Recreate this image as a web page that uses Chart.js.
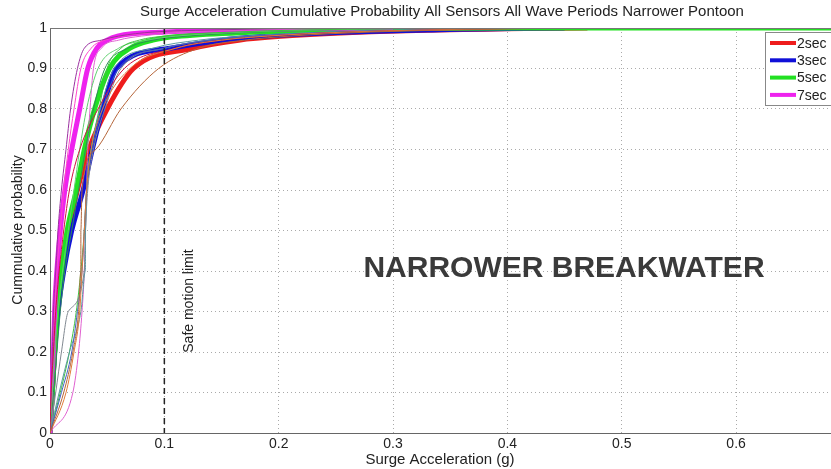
<!DOCTYPE html>
<html>
<head>
<meta charset="utf-8">
<script src="https://cdn.jsdelivr.net/npm/chart.js@4"></script>
<style>
  html, body { margin: 0; padding: 0; background: #fff; }
  #wrap { width: 831px; height: 469px; }
</style>
</head>
<body>
<div id="wrap"><canvas id="cdf"></canvas></div>
<script>
// cumulative probability levels, and the acceleration (g) where each curve reaches them
const probLevels = [0, 0.1, 0.2, 0.3, 0.4, 0.5, 0.6, 0.7, 0.8, 0.9, 0.95, 0.97, 0.98, 0.99, 0.995, 1, 1];

const accel2sec = [0, 0.002, 0.004, 0.006, 0.010, 0.016, 0.024, 0.034, 0.050, 0.073, 0.125, 0.165, 0.205, 0.275, 0.34, 0.47, 0.47];
const accel3sec = [0, 0.002, 0.004, 0.007, 0.012, 0.019, 0.029, 0.037, 0.046, 0.058, 0.105, 0.150, 0.190, 0.265, 0.33, 0.45, 0.45];
const accel5sec = [0, 0.002, 0.004, 0.006, 0.010, 0.015, 0.023, 0.030, 0.039, 0.052, 0.070, 0.090, 0.115, 0.18, 0.24, 0.40, 0.70];
const accel7sec = [0, 0.001, 0.003, 0.004, 0.006, 0.009, 0.013, 0.019, 0.026, 0.033, 0.041, 0.050, 0.059, 0.10, 0.15, 0.30, 0.30];

// single sensors (thin lines)
const sensors2sec = [
  [0, 0.012, 0.020, 0.025, 0.027, 0.027, 0.028, 0.040, 0.062, 0.095, 0.13, 0.17, 0.21, 0.28, 0.35, 0.48, 0.48],
  [0, 0.014, 0.021, 0.026, 0.028, 0.030, 0.032, 0.036, 0.046, 0.070, 0.11, 0.15, 0.19, 0.26, 0.33, 0.46, 0.46],
  [0, 0.001, 0.003, 0.005, 0.008, 0.012, 0.017, 0.026, 0.042, 0.065, 0.11, 0.15, 0.19, 0.26, 0.33, 0.45, 0.45]
];
const sensors3sec = [
  [0, 0.010, 0.019, 0.024, 0.028, 0.030, 0.032, 0.037, 0.046, 0.060, 0.10, 0.14, 0.18, 0.25, 0.32, 0.44, 0.44],
  [0, 0.008, 0.017, 0.027, 0.031, 0.031, 0.032, 0.036, 0.044, 0.056, 0.09, 0.13, 0.17, 0.24, 0.31, 0.43, 0.43],
  [0, 0.005, 0.010, 0.016, 0.030, 0.031, 0.033, 0.038, 0.048, 0.062, 0.10, 0.14, 0.18, 0.25, 0.32, 0.44, 0.44]
];
const sensors5sec = [
  [0, 0.009, 0.017, 0.023, 0.027, 0.030, 0.032, 0.036, 0.043, 0.050, 0.062, 0.078, 0.10, 0.16, 0.22, 0.38, 0.38],
  [0, 0.002, 0.004, 0.007, 0.011, 0.016, 0.021, 0.026, 0.032, 0.042, 0.060, 0.085, 0.11, 0.17, 0.23, 0.39, 0.39],
  [0, 0.003, 0.006, 0.009, 0.013, 0.019, 0.025, 0.031, 0.038, 0.048, 0.068, 0.090, 0.12, 0.18, 0.24, 0.40, 0.40]
];
const sensors7sec = [
  [0, 0.001, 0.002, 0.003, 0.005, 0.007, 0.010, 0.014, 0.018, 0.024, 0.030, 0.045, 0.060, 0.09, 0.14, 0.28, 0.28],
  [0, 0.020, 0.025, 0.028, 0.030, 0.031, 0.032, 0.033, 0.035, 0.038, 0.045, 0.060, 0.080, 0.12, 0.17, 0.30, 0.30],
  [0, 0.001, 0.002, 0.004, 0.006, 0.009, 0.012, 0.016, 0.021, 0.027, 0.036, 0.048, 0.062, 0.10, 0.15, 0.30, 0.30]
];

const periodLabels = ['2sec', '3sec', '5sec', '7sec'];
const periodColors = ['#ee1c1c', '#1010d8', '#22e022', '#ee22ee'];
const sensorColors = [
  ['#b5653a', '#e07b39', '#d01040'],
  ['#4060c0', '#5a9aa0', '#808890'],
  ['#40c040', '#60d070', '#2e8b57'],
  ['#9b30a0', '#e060d0', '#ff44cc']
];

const xTicks = [0, 0.1, 0.2, 0.3, 0.4, 0.5, 0.6];
const yTicks = [0, 0.1, 0.2, 0.3, 0.4, 0.5, 0.6, 0.7, 0.8, 0.9, 1];
const safeLimit = 0.1;

const toPts = arr => arr.map((a, i) => ({ x: a, y: probLevels[i] }));

const thick = [accel2sec, accel3sec, accel5sec, accel7sec];
const sensors = [sensors2sec, sensors3sec, sensors5sec, sensors7sec];

const datasets = [];
// thin sensor lines on top
sensors.forEach((group, p) => group.forEach((s, k) => datasets.push({
  label: periodLabels[p] + ' s' + (k + 1), data: toPts(s),
  borderColor: sensorColors[p][k], borderWidth: 1, pointRadius: 0,
  cubicInterpolationMode: 'monotone'
})));
// thick lines, 7sec drawn last = on top
[3, 2, 1, 0].forEach(p => datasets.push({
  label: periodLabels[p], data: toPts(thick[p]),
  borderColor: periodColors[p], borderWidth: 5, pointRadius: 0,
  cubicInterpolationMode: 'monotone'
}));

const FONT = '"Liberation Sans", Arial, sans-serif';

const extras = {
  id: 'extras',
  afterDatasetsDraw(chart) {
    const { ctx, chartArea: a, scales: { x } } = chart;
    ctx.save();
    // safe limit dashed line
    const px = x.getPixelForValue(safeLimit);
    ctx.strokeStyle = '#222';
    ctx.lineWidth = 1.5;
    ctx.setLineDash([6, 4]);
    ctx.beginPath(); ctx.moveTo(px, a.top); ctx.lineTo(px, a.bottom); ctx.stroke();
    ctx.setLineDash([]);
    // box top edge
    ctx.strokeStyle = '#777';
    ctx.lineWidth = 1;
    ctx.beginPath(); ctx.moveTo(a.left, a.top + 0.5); ctx.lineTo(a.right, a.top + 0.5); ctx.stroke();
    ctx.restore();
  },
  afterDraw(chart) {
    const { ctx, scales: { x } } = chart;
    ctx.save();
    ctx.fillStyle = '#222';
    ctx.textAlign = 'center';
    ctx.textBaseline = 'middle';
    ctx.font = '15px ' + FONT;
    ctx.fillText('Surge Acceleration Cumulative Probability All Sensors All Wave Periods Narrower Pontoon', 442, 12);
    ctx.fillText('Surge Acceleration (g)', 440, 460);
    ctx.font = '14px ' + FONT;
    ctx.save();
    ctx.translate(18, 230); ctx.rotate(-Math.PI / 2);
    ctx.fillText('Cummulative probability', 0, 0);
    ctx.restore();
    ctx.save();
    ctx.translate(x.getPixelForValue(safeLimit) + 25, 301); ctx.rotate(-Math.PI / 2);
    ctx.fillText('Safe motion limit', 0, 0);
    ctx.restore();
    ctx.fillStyle = '#3a3a3a';
    ctx.font = 'bold 30px ' + FONT;
    ctx.fillText('NARROWER BREAKWATER', 564, 269);

    // legend
    const lx = 765, ly = 32, lw = 70, lh = 73;
    ctx.fillStyle = '#fff';
    ctx.fillRect(lx, ly, lw, lh);
    ctx.strokeStyle = '#888';
    ctx.lineWidth = 1;
    ctx.strokeRect(lx + 0.5, ly + 0.5, lw, lh);
    ctx.textAlign = 'left';
    ctx.font = '14px ' + FONT;
    periodLabels.forEach((lab, i) => {
      const yy = ly + 11 + i * 17.3;
      ctx.strokeStyle = periodColors[i];
      ctx.lineWidth = 4;
      ctx.beginPath(); ctx.moveTo(lx + 5, yy); ctx.lineTo(lx + 31, yy); ctx.stroke();
      ctx.fillStyle = '#222';
      ctx.fillText(lab, lx + 32, yy + 1);
    });
    ctx.restore();
  }
};

new Chart(document.getElementById('cdf'), {
  type: 'line',
  data: { datasets },
  plugins: [extras],
  options: {
    responsive: true,
    maintainAspectRatio: false,
    animation: false,
    layout: { padding: { top: 28, right: 0, left: 0, bottom: 0 } },
    plugins: { legend: { display: false }, tooltip: { enabled: false }, title: { display: false } },
    scales: {
      x: {
        type: 'linear', min: 0, max: 0.683,
        afterFit: s => { s.height = 36; },
        afterBuildTicks: s => { s.ticks = xTicks.map(v => ({ value: v })); },
        ticks: { callback: v => String(+v.toFixed(1)), color: '#222', font: { family: FONT, size: 14 }, padding: 3, maxRotation: 0 },
        grid: { color: '#aaa', drawTicks: false, lineWidth: 1 },
        border: { color: '#666', dash: [1, 3] }
      },
      y: {
        min: 0, max: 1,
        afterFit: s => { s.width = 50; },
        afterBuildTicks: s => { s.ticks = yTicks.map(v => ({ value: v })); },
        ticks: { callback: v => String(+v.toFixed(1)), color: '#222', font: { family: FONT, size: 14 }, padding: 3 },
        grid: { color: '#aaa', drawTicks: false, lineWidth: 1 },
        border: { color: '#666', dash: [1, 3] }
      }
    }
  }
});
</script>
</body>
</html>
